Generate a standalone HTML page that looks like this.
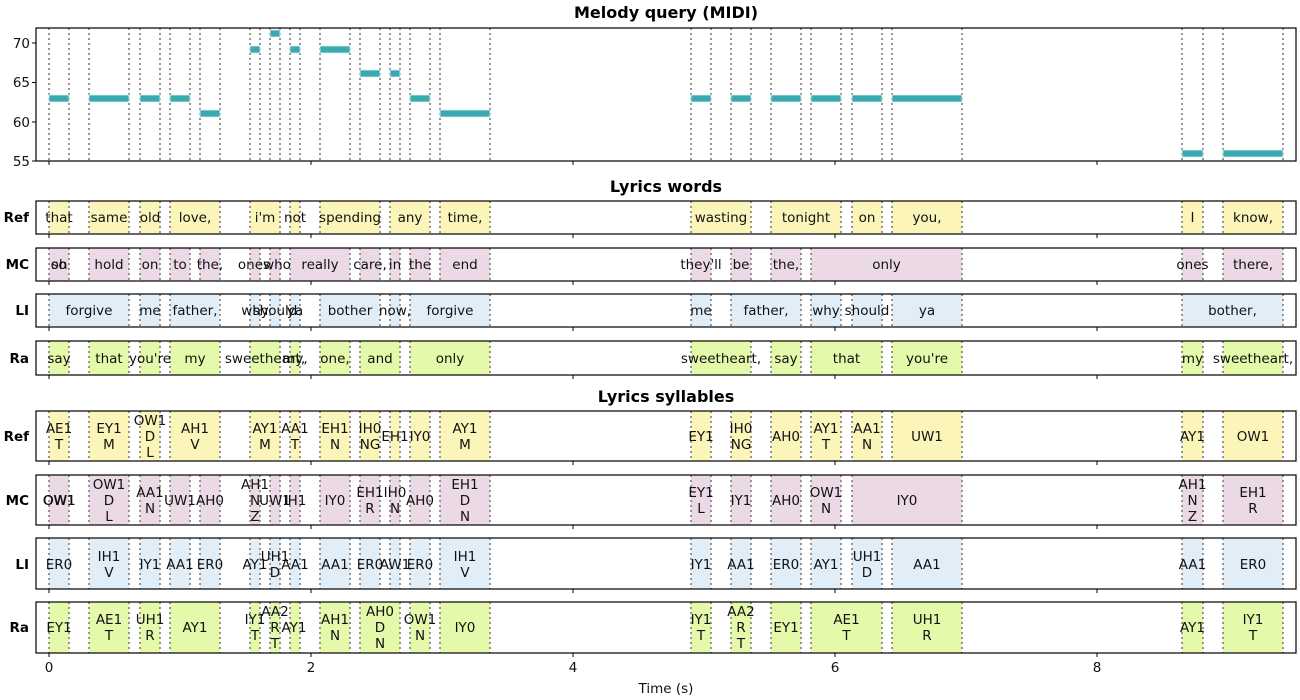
<!DOCTYPE html>
<html><head><meta charset="utf-8"><style>
body{margin:0;background:#fff}
svg{display:block;font-family:"DejaVu Sans","Liberation Sans",sans-serif}
.t{font-size:13.5px;fill:#111;text-anchor:middle}
.ti{font-size:16px;font-weight:bold;text-anchor:middle}
.lb{font-size:13.5px;font-weight:bold;text-anchor:end}
.tk{font-size:13.5px;fill:#111}
.d{stroke:#777;stroke-width:1.5;stroke-dasharray:2,3;fill:none}
.f{fill:none;stroke:#000;stroke-width:1.2}
.y{fill:#fbf5b9}.p{fill:#ecd9e6}.b{fill:#e1eef8}.g{fill:#e5f9ab}
.n{fill:#3aa9b0;stroke:#d8f0f0;stroke-width:0.8}
</style></head><body>
<svg width="1300" height="700" viewBox="0 0 1300 700">
<text class="ti" x="666" y="18">Melody query (MIDI)</text>
<!-- MIDI panel -->
<path class="d" d="M49 28V161M69 28V161M89 28V161M129 28V161M140 28V161M160 28V161M170 28V161M190 28V161M200 28V161M220 28V161M250 28V161M260 28V161M270 28V161M280 28V161M290 28V161M300 28V161M320 28V161M350 28V161M360 28V161M380 28V161M390 28V161M400 28V161M410 28V161M430 28V161M440 28V161M490 28V161M691 28V161M711 28V161M731 28V161M751 28V161M771 28V161M801 28V161M811 28V161M841 28V161M852 28V161M882 28V161M892 28V161M962 28V161M1182 28V161M1203 28V161M1223 28V161M1283 28V161"/>
<g class="n">
<rect x="49" y="95" width="20" height="7"/><rect x="89" y="95" width="40" height="7"/><rect x="140" y="95" width="20" height="7"/><rect x="170" y="95" width="20" height="7"/>
<rect x="200" y="110" width="20" height="7"/><rect x="250" y="46" width="10" height="7"/><rect x="270" y="30" width="10" height="7"/><rect x="290" y="46" width="10" height="7"/><rect x="320" y="46" width="30" height="7"/>
<rect x="360" y="70" width="20" height="7"/><rect x="390" y="70" width="10" height="7"/><rect x="410" y="95" width="20" height="7"/><rect x="440" y="110" width="50" height="7"/>
<rect x="691" y="95" width="20" height="7"/><rect x="731" y="95" width="20" height="7"/><rect x="771" y="95" width="30" height="7"/><rect x="811" y="95" width="30" height="7"/><rect x="852" y="95" width="30" height="7"/><rect x="892" y="95" width="70" height="7"/>
<rect x="1182" y="150" width="21" height="7"/><rect x="1223" y="150" width="60" height="7"/>
</g>
<rect class="f" x="36" y="28" width="1260" height="133"/>
<path stroke="#000" d="M32 43H36M32 82.5H36M32 122H36M32 161H36M49 161V165M311 161V165M573 161V165M835 161V165M1097 161V165"/>
<g class="tk" text-anchor="end"><text x="30" y="48">70</text><text x="30" y="87">65</text><text x="30" y="127">60</text><text x="30" y="166">55</text></g>

<text class="ti" x="666" y="192">Lyrics words</text>
<!-- Ref words -->
<g class="y"><rect x="49" y="201" width="20" height="33"/><rect x="89" y="201" width="40" height="33"/><rect x="140" y="201" width="20" height="33"/><rect x="170" y="201" width="50" height="33"/><rect x="250" y="201" width="30" height="33"/><rect x="290" y="201" width="10" height="33"/><rect x="320" y="201" width="60" height="33"/><rect x="390" y="201" width="40" height="33"/><rect x="440" y="201" width="50" height="33"/><rect x="691" y="201" width="60" height="33"/><rect x="771" y="201" width="70" height="33"/><rect x="852" y="201" width="30" height="33"/><rect x="892" y="201" width="70" height="33"/><rect x="1182" y="201" width="21" height="33"/><rect x="1223" y="201" width="60" height="33"/></g>
<path class="d" d="M49 201v33M69 201v33M89 201v33M129 201v33M140 201v33M160 201v33M170 201v33M220 201v33M250 201v33M280 201v33M290 201v33M300 201v33M320 201v33M380 201v33M390 201v33M430 201v33M440 201v33M490 201v33M691 201v33M751 201v33M771 201v33M841 201v33M852 201v33M882 201v33M892 201v33M962 201v33M1182 201v33M1203 201v33M1223 201v33M1283 201v33"/>
<g class="t"><text x="59" y="222">that</text><text x="109" y="222">same</text><text x="150" y="222">old</text><text x="195" y="222">love,</text><text x="265" y="222">i'm</text><text x="295" y="222">not</text><text x="350" y="222">spending</text><text x="410" y="222">any</text><text x="465" y="222">time,</text><text x="721" y="222">wasting</text><text x="806" y="222">tonight</text><text x="867" y="222">on</text><text x="927" y="222">you,</text><text x="1192.5" y="222">I</text><text x="1253" y="222">know,</text></g>
<rect class="f" x="36" y="201" width="1260" height="33"/>
<!-- MC words -->
<g class="p"><rect x="49" y="248" width="20" height="33"/><rect x="89" y="248" width="40" height="33"/><rect x="140" y="248" width="20" height="33"/><rect x="170" y="248" width="20" height="33"/><rect x="200" y="248" width="20" height="33"/><rect x="250" y="248" width="10" height="33"/><rect x="270" y="248" width="10" height="33"/><rect x="290" y="248" width="60" height="33"/><rect x="360" y="248" width="20" height="33"/><rect x="390" y="248" width="10" height="33"/><rect x="410" y="248" width="20" height="33"/><rect x="440" y="248" width="50" height="33"/><rect x="691" y="248" width="20" height="33"/><rect x="731" y="248" width="20" height="33"/><rect x="771" y="248" width="30" height="33"/><rect x="811" y="248" width="151" height="33"/><rect x="1182" y="248" width="21" height="33"/><rect x="1223" y="248" width="60" height="33"/></g>
<path class="d" d="M49 248v33M69 248v33M89 248v33M129 248v33M140 248v33M160 248v33M170 248v33M190 248v33M200 248v33M220 248v33M250 248v33M260 248v33M270 248v33M280 248v33M290 248v33M350 248v33M360 248v33M380 248v33M390 248v33M400 248v33M410 248v33M430 248v33M440 248v33M490 248v33M691 248v33M711 248v33M731 248v33M751 248v33M771 248v33M801 248v33M811 248v33M962 248v33M1182 248v33M1203 248v33M1223 248v33M1283 248v33"/>
<g class="t"><text x="59" y="269">oh</text><text x="59" y="269">so</text><text x="109" y="269">hold</text><text x="150" y="269">on</text><text x="180" y="269">to</text><text x="210" y="269">the,</text><text x="254" y="269">ones</text><text x="277" y="269">who</text><text x="320" y="269">really</text><text x="370" y="269">care,</text><text x="395" y="269">in</text><text x="420" y="269">the</text><text x="465" y="269">end</text><text x="701" y="269">they'll</text><text x="741" y="269">be</text><text x="786" y="269">the,</text><text x="886.5" y="269">only</text><text x="1192.5" y="269">ones</text><text x="1253" y="269">there,</text></g>
<rect class="f" x="36" y="248" width="1260" height="33"/>
<!-- LI words -->
<g class="b"><rect x="49" y="294" width="80" height="33"/><rect x="140" y="294" width="20" height="33"/><rect x="170" y="294" width="50" height="33"/><rect x="250" y="294" width="10" height="33"/><rect x="270" y="294" width="10" height="33"/><rect x="290" y="294" width="10" height="33"/><rect x="320" y="294" width="60" height="33"/><rect x="390" y="294" width="10" height="33"/><rect x="410" y="294" width="80" height="33"/><rect x="691" y="294" width="20" height="33"/><rect x="731" y="294" width="70" height="33"/><rect x="811" y="294" width="30" height="33"/><rect x="852" y="294" width="30" height="33"/><rect x="892" y="294" width="70" height="33"/><rect x="1182" y="294" width="101" height="33"/></g>
<path class="d" d="M49 294v33M129 294v33M140 294v33M160 294v33M170 294v33M220 294v33M250 294v33M260 294v33M270 294v33M280 294v33M290 294v33M300 294v33M320 294v33M380 294v33M390 294v33M400 294v33M410 294v33M490 294v33M691 294v33M711 294v33M731 294v33M801 294v33M811 294v33M841 294v33M852 294v33M882 294v33M892 294v33M962 294v33M1182 294v33M1283 294v33"/>
<g class="t"><text x="89" y="315">forgive</text><text x="150" y="315">me</text><text x="195" y="315">father,</text><text x="255" y="315">why</text><text x="275" y="315">should</text><text x="295" y="315">ya</text><text x="350" y="315">bother</text><text x="395" y="315">now,</text><text x="450" y="315">forgive</text><text x="701" y="315">me</text><text x="766" y="315">father,</text><text x="826" y="315">why</text><text x="867" y="315">should</text><text x="927" y="315">ya</text><text x="1232.5" y="315">bother,</text></g>
<rect class="f" x="36" y="294" width="1260" height="33"/>
<!-- Ra words -->
<g class="g"><rect x="49" y="341" width="20" height="34"/><rect x="89" y="341" width="40" height="34"/><rect x="140" y="341" width="20" height="34"/><rect x="170" y="341" width="50" height="34"/><rect x="250" y="341" width="30" height="34"/><rect x="290" y="341" width="10" height="34"/><rect x="320" y="341" width="30" height="34"/><rect x="360" y="341" width="40" height="34"/><rect x="410" y="341" width="80" height="34"/><rect x="691" y="341" width="60" height="34"/><rect x="771" y="341" width="30" height="34"/><rect x="811" y="341" width="71" height="34"/><rect x="892" y="341" width="70" height="34"/><rect x="1182" y="341" width="21" height="34"/><rect x="1223" y="341" width="60" height="34"/></g>
<path class="d" d="M49 341v34M69 341v34M89 341v34M129 341v34M140 341v34M160 341v34M170 341v34M220 341v34M250 341v34M280 341v34M290 341v34M300 341v34M320 341v34M350 341v34M360 341v34M400 341v34M410 341v34M490 341v34M691 341v34M751 341v34M771 341v34M801 341v34M811 341v34M882 341v34M892 341v34M962 341v34M1182 341v34M1203 341v34M1223 341v34M1283 341v34"/>
<g class="t"><text x="59" y="363">say</text><text x="109" y="363">that</text><text x="150" y="363">you're</text><text x="195" y="363">my</text><text x="265" y="363">sweetheart,</text><text x="295" y="363">my,</text><text x="335" y="363">one,</text><text x="380" y="363">and</text><text x="450" y="363">only</text><text x="721" y="363">sweetheart,</text><text x="786" y="363">say</text><text x="846.5" y="363">that</text><text x="927" y="363">you're</text><text x="1192.5" y="363">my</text><text x="1253" y="363">sweetheart,</text></g>
<rect class="f" x="36" y="341" width="1260" height="34"/>

<text class="ti" x="666" y="402">Lyrics syllables</text>
<!-- Ref syll -->
<g class="y"><rect x="49" y="411" width="20" height="50"/><rect x="89" y="411" width="40" height="50"/><rect x="140" y="411" width="20" height="50"/><rect x="170" y="411" width="50" height="50"/><rect x="250" y="411" width="30" height="50"/><rect x="290" y="411" width="10" height="50"/><rect x="320" y="411" width="30" height="50"/><rect x="360" y="411" width="20" height="50"/><rect x="390" y="411" width="10" height="50"/><rect x="410" y="411" width="20" height="50"/><rect x="440" y="411" width="50" height="50"/><rect x="691" y="411" width="20" height="50"/><rect x="731" y="411" width="20" height="50"/><rect x="771" y="411" width="30" height="50"/><rect x="811" y="411" width="30" height="50"/><rect x="852" y="411" width="30" height="50"/><rect x="892" y="411" width="70" height="50"/><rect x="1182" y="411" width="21" height="50"/><rect x="1223" y="411" width="60" height="50"/></g>
<path class="d" d="M49 411v50M69 411v50M89 411v50M129 411v50M140 411v50M160 411v50M170 411v50M220 411v50M250 411v50M280 411v50M290 411v50M300 411v50M320 411v50M350 411v50M360 411v50M380 411v50M390 411v50M400 411v50M410 411v50M430 411v50M440 411v50M490 411v50M691 411v50M711 411v50M731 411v50M751 411v50M771 411v50M801 411v50M811 411v50M841 411v50M852 411v50M882 411v50M892 411v50M962 411v50M1182 411v50M1203 411v50M1223 411v50M1283 411v50"/>
<g class="t">
<text x="59" y="433">AE1</text><text x="59" y="449">T</text>
<text x="109" y="433">EY1</text><text x="109" y="449">M</text>
<text x="150" y="425">OW1</text><text x="150" y="441">D</text><text x="150" y="457">L</text>
<text x="195" y="433">AH1</text><text x="195" y="449">V</text>
<text x="265" y="433">AY1</text><text x="265" y="449">M</text>
<text x="295" y="433">AA1</text><text x="295" y="449">T</text>
<text x="335" y="433">EH1</text><text x="335" y="449">N</text>
<text x="370" y="433">IH0</text><text x="370" y="449">NG</text>
<text x="395" y="441">EH1</text>
<text x="420" y="441">IY0</text>
<text x="465" y="433">AY1</text><text x="465" y="449">M</text>
<text x="701" y="441">EY1</text>
<text x="741" y="433">IH0</text><text x="741" y="449">NG</text>
<text x="786" y="441">AH0</text>
<text x="826" y="433">AY1</text><text x="826" y="449">T</text>
<text x="867" y="433">AA1</text><text x="867" y="449">N</text>
<text x="927" y="441">UW1</text>
<text x="1192.5" y="441">AY1</text>
<text x="1253" y="441">OW1</text>
</g>
<rect class="f" x="36" y="411" width="1260" height="50"/>
<!-- MC syll -->
<g class="p"><rect x="49" y="475" width="20" height="50"/><rect x="89" y="475" width="40" height="50"/><rect x="140" y="475" width="20" height="50"/><rect x="170" y="475" width="20" height="50"/><rect x="200" y="475" width="20" height="50"/><rect x="250" y="475" width="10" height="50"/><rect x="270" y="475" width="10" height="50"/><rect x="290" y="475" width="10" height="50"/><rect x="320" y="475" width="30" height="50"/><rect x="360" y="475" width="20" height="50"/><rect x="390" y="475" width="10" height="50"/><rect x="410" y="475" width="20" height="50"/><rect x="440" y="475" width="50" height="50"/><rect x="691" y="475" width="20" height="50"/><rect x="731" y="475" width="20" height="50"/><rect x="771" y="475" width="30" height="50"/><rect x="811" y="475" width="30" height="50"/><rect x="852" y="475" width="110" height="50"/><rect x="1182" y="475" width="21" height="50"/><rect x="1223" y="475" width="60" height="50"/></g>
<path class="d" d="M49 475v50M69 475v50M89 475v50M129 475v50M140 475v50M160 475v50M170 475v50M190 475v50M200 475v50M220 475v50M250 475v50M260 475v50M270 475v50M280 475v50M290 475v50M300 475v50M320 475v50M350 475v50M360 475v50M380 475v50M390 475v50M400 475v50M410 475v50M430 475v50M440 475v50M490 475v50M691 475v50M711 475v50M731 475v50M751 475v50M771 475v50M801 475v50M811 475v50M841 475v50M852 475v50M962 475v50M1182 475v50M1203 475v50M1223 475v50M1283 475v50"/>
<g class="t">
<text x="59" y="505">OW1</text><text x="59.5" y="505">OW1</text>
<text x="109" y="489">OW1</text><text x="109" y="505">D</text><text x="109" y="521">L</text>
<text x="150" y="497">AA1</text><text x="150" y="513">N</text>
<text x="180" y="505">UW1</text>
<text x="210" y="505">AH0</text>
<text x="255" y="489">AH1</text><text x="255" y="505">N</text><text x="255" y="521">Z</text>
<text x="275" y="505">UW1</text>
<text x="295" y="505">IH1</text>
<text x="335" y="505">IY0</text>
<text x="370" y="497">EH1</text><text x="370" y="513">R</text>
<text x="395" y="497">IH0</text><text x="395" y="513">N</text>
<text x="420" y="505">AH0</text>
<text x="465" y="489">EH1</text><text x="465" y="505">D</text><text x="465" y="521">N</text>
<text x="701" y="497">EY1</text><text x="701" y="513">L</text>
<text x="741" y="505">IY1</text>
<text x="786" y="505">AH0</text>
<text x="826" y="497">OW1</text><text x="826" y="513">N</text>
<text x="907" y="505">IY0</text>
<text x="1192.5" y="489">AH1</text><text x="1192.5" y="505">N</text><text x="1192.5" y="521">Z</text>
<text x="1253" y="497">EH1</text><text x="1253" y="513">R</text>
</g>
<rect class="f" x="36" y="475" width="1260" height="50"/>
<!-- LI syll -->
<g class="b"><rect x="49" y="538" width="20" height="51"/><rect x="89" y="538" width="40" height="51"/><rect x="140" y="538" width="20" height="51"/><rect x="170" y="538" width="20" height="51"/><rect x="200" y="538" width="20" height="51"/><rect x="250" y="538" width="10" height="51"/><rect x="270" y="538" width="10" height="51"/><rect x="290" y="538" width="10" height="51"/><rect x="320" y="538" width="30" height="51"/><rect x="360" y="538" width="20" height="51"/><rect x="390" y="538" width="10" height="51"/><rect x="410" y="538" width="20" height="51"/><rect x="440" y="538" width="50" height="51"/><rect x="691" y="538" width="20" height="51"/><rect x="731" y="538" width="20" height="51"/><rect x="771" y="538" width="30" height="51"/><rect x="811" y="538" width="30" height="51"/><rect x="852" y="538" width="30" height="51"/><rect x="892" y="538" width="70" height="51"/><rect x="1182" y="538" width="21" height="51"/><rect x="1223" y="538" width="60" height="51"/></g>
<path class="d" d="M49 538v51M69 538v51M89 538v51M129 538v51M140 538v51M160 538v51M170 538v51M190 538v51M200 538v51M220 538v51M250 538v51M260 538v51M270 538v51M280 538v51M290 538v51M300 538v51M320 538v51M350 538v51M360 538v51M380 538v51M390 538v51M400 538v51M410 538v51M430 538v51M440 538v51M490 538v51M691 538v51M711 538v51M731 538v51M751 538v51M771 538v51M801 538v51M811 538v51M841 538v51M852 538v51M882 538v51M892 538v51M962 538v51M1182 538v51M1203 538v51M1223 538v51M1283 538v51"/>
<g class="t">
<text x="59" y="569">ER0</text>
<text x="109" y="561">IH1</text><text x="109" y="577">V</text>
<text x="150" y="569">IY1</text>
<text x="180" y="569">AA1</text>
<text x="210" y="569">ER0</text>
<text x="255" y="569">AY1</text>
<text x="275" y="561">UH1</text><text x="275" y="577">D</text>
<text x="295" y="569">AA1</text>
<text x="335" y="569">AA1</text>
<text x="370" y="569">ER0</text>
<text x="395" y="569">AW1</text>
<text x="420" y="569">ER0</text>
<text x="465" y="561">IH1</text><text x="465" y="577">V</text>
<text x="701" y="569">IY1</text>
<text x="741" y="569">AA1</text>
<text x="786" y="569">ER0</text>
<text x="826" y="569">AY1</text>
<text x="867" y="561">UH1</text><text x="867" y="577">D</text>
<text x="927" y="569">AA1</text>
<text x="1192.5" y="569">AA1</text>
<text x="1253" y="569">ER0</text>
</g>
<rect class="f" x="36" y="538" width="1260" height="51"/>
<!-- Ra syll -->
<g class="g"><rect x="49" y="602" width="20" height="51"/><rect x="89" y="602" width="40" height="51"/><rect x="140" y="602" width="20" height="51"/><rect x="170" y="602" width="50" height="51"/><rect x="250" y="602" width="10" height="51"/><rect x="270" y="602" width="10" height="51"/><rect x="290" y="602" width="10" height="51"/><rect x="320" y="602" width="30" height="51"/><rect x="360" y="602" width="40" height="51"/><rect x="410" y="602" width="20" height="51"/><rect x="440" y="602" width="50" height="51"/><rect x="691" y="602" width="20" height="51"/><rect x="731" y="602" width="20" height="51"/><rect x="771" y="602" width="30" height="51"/><rect x="811" y="602" width="71" height="51"/><rect x="892" y="602" width="70" height="51"/><rect x="1182" y="602" width="21" height="51"/><rect x="1223" y="602" width="60" height="51"/></g>
<path class="d" d="M49 602v51M69 602v51M89 602v51M129 602v51M140 602v51M160 602v51M170 602v51M220 602v51M250 602v51M260 602v51M270 602v51M280 602v51M290 602v51M300 602v51M320 602v51M350 602v51M360 602v51M400 602v51M410 602v51M430 602v51M440 602v51M490 602v51M691 602v51M711 602v51M731 602v51M751 602v51M771 602v51M801 602v51M811 602v51M882 602v51M892 602v51M962 602v51M1182 602v51M1203 602v51M1223 602v51M1283 602v51"/>
<g class="t">
<text x="59" y="632">EY1</text>
<text x="109" y="624">AE1</text><text x="109" y="640">T</text>
<text x="150" y="624">UH1</text><text x="150" y="640">R</text>
<text x="195" y="632">AY1</text>
<text x="255" y="624">IY1</text><text x="255" y="640">T</text>
<text x="275" y="616">AA2</text><text x="275" y="632">R</text><text x="275" y="648">T</text>
<text x="294" y="632">AY1</text>
<text x="335" y="624">AH1</text><text x="335" y="640">N</text>
<text x="380" y="616">AH0</text><text x="380" y="632">D</text><text x="380" y="648">N</text>
<text x="420" y="624">OW1</text><text x="420" y="640">N</text>
<text x="465" y="632">IY0</text>
<text x="701" y="624">IY1</text><text x="701" y="640">T</text>
<text x="741" y="616">AA2</text><text x="741" y="632">R</text><text x="741" y="648">T</text>
<text x="786" y="632">EY1</text>
<text x="846.5" y="624">AE1</text><text x="846.5" y="640">T</text>
<text x="927" y="624">UH1</text><text x="927" y="640">R</text>
<text x="1192.5" y="632">AY1</text>
<text x="1253" y="624">IY1</text><text x="1253" y="640">T</text>
</g>
<rect class="f" x="36" y="602" width="1260" height="51"/>

<path stroke="#000" d="M49 234v4M311 234v4M573 234v4M835 234v4M1097 234v4M49 281v4M311 281v4M573 281v4M835 281v4M1097 281v4M49 327v4M311 327v4M573 327v4M835 327v4M1097 327v4M49 375v4M311 375v4M573 375v4M835 375v4M1097 375v4M49 461v4M311 461v4M573 461v4M835 461v4M1097 461v4M49 525v4M311 525v4M573 525v4M835 525v4M1097 525v4M49 589v4M311 589v4M573 589v4M835 589v4M1097 589v4M49 653v4M311 653v4M573 653v4M835 653v4M1097 653v4"/>
<g class="lb"><text x="29" y="222">Ref</text><text x="29" y="269">MC</text><text x="29" y="315">LI</text><text x="29" y="363">Ra</text><text x="29" y="441">Ref</text><text x="29" y="505">MC</text><text x="29" y="569">LI</text><text x="29" y="632">Ra</text></g>
<g class="tk" text-anchor="middle"><text x="49" y="672">0</text><text x="311" y="672">2</text><text x="573" y="672">4</text><text x="835" y="672">6</text><text x="1097" y="672">8</text><text x="666" y="693">Time (s)</text></g>
</svg>
</body></html>
